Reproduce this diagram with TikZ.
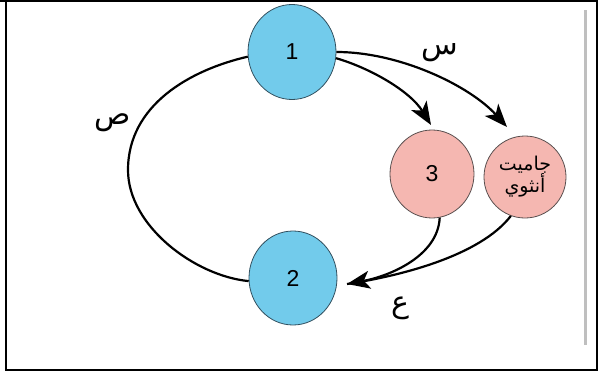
\documentclass[tikz,border=0pt]{standalone}
\usepackage{fontspec}
\setmainfont{Liberation Sans}
\newfontfamily\arabicfont[Script=Arabic]{DejaVu Sans}
\TeXXeTstate=1
\usetikzlibrary{arrows.meta,shapes.geometric}
\definecolor{cellblue}{RGB}{114,203,235}
\definecolor{cellpink}{RGB}{245,183,177}
\definecolor{bordblue}{RGB}{50,80,95}
\definecolor{bordpink}{RGB}{90,80,80}
\begin{document}
\begin{tikzpicture}[x=1pt,y=1pt,
  bluecell/.style={ellipse,draw=bordblue,fill=cellblue,line width=0.8pt,inner sep=0pt,font=\fontsize{23}{26}\selectfont},
  pinkcell/.style={ellipse,draw=bordpink,fill=cellpink,line width=0.8pt,inner sep=0pt},
  link/.style={line width=2.2pt,black},
  arr/.style={link,-{Stealth[length=23pt,width=18pt,inset=6pt]}},
  lbl/.style={font=\arabicfont\fontsize{30}{34}\selectfont}]
\useasboundingbox (0,0) rectangle (600,376);
\draw[line width=1.5pt] (6,6) rectangle (597,375);
\draw[line width=3pt] (0,375.5) -- (60,375.5);
\draw[line width=3pt,black!25] (585,366) -- (585,31);
\node[bluecell,minimum width=88pt,minimum height=95pt] (n1) at (292,324) {1};
\node[bluecell,minimum width=88pt,minimum height=94pt] (n2) at (293,98) {2};
\node[pinkcell,minimum width=84pt,minimum height=88pt,font=\fontsize{23}{26}\selectfont] (n3) at (432,202) {3};
\node[pinkcell,minimum width=82pt,minimum height=82pt,align=center,font=\arabicfont\fontsize{19}{22}\selectfont] (g) at (525,199) {\beginR جاميت\endR\\\beginR أنثوي\endR};
\coordinate (L) at (128,206);
\coordinate (tipg) at (507,249);
\coordinate (tip3) at (431,251);
\coordinate (tip2) at (347,92);
\draw[link] (n1.186) .. controls (190,306) and (128,271) .. (L)
  .. controls (128,150) and (195,100) .. (n2.184);
\draw[arr] (n1.east) .. controls (400,324) and (470,290) .. (tipg);
\draw[arr] (n1.-8) .. controls (370,308) and (410,285) .. (tip3);
\draw[link] (g.-110) .. controls (480,120) and (400,100) .. (tip2);
\draw[arr] (n3.-80) .. controls (438,120) and (390,100) .. (tip2);
\node[lbl] (s) at (440,323) {\beginR س\endR};
\node[lbl] (sad) at (113,253) {\beginR ص\endR};
\node[lbl] (ain) at (400,68) {\beginR ع\endR};
\end{tikzpicture}
\end{document}
